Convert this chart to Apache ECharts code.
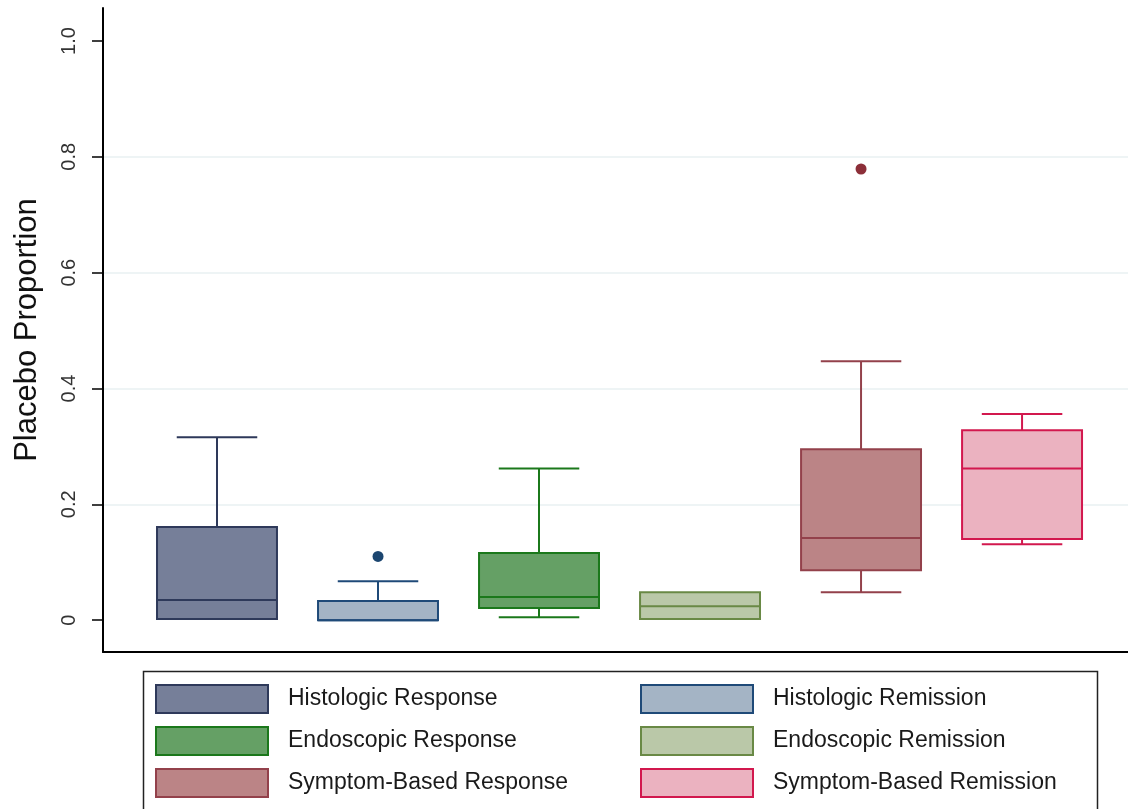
<!DOCTYPE html>
<html>
<head>
<meta charset="utf-8">
<title>Placebo Proportion</title>
<script src="https://cdn.jsdelivr.net/npm/echarts@6/dist/echarts.min.js"></script>
<style>
  html, body {
    margin: 0;
    padding: 0;
    background: #fff;
  }
  #chart {
    width: 1128px;
    height: 809px;
  }
</style>
</head>
<body>
<div id="chart"></div>
<script>
// groups, left to right
var groups = [
  "Histologic Response",
  "Histologic Remission",
  "Endoscopic Response",
  "Endoscopic Remission",
  "Symptom-Based Response",
  "Symptom-Based Remission"
];
// box stats
var lowWhisker  = [0.002, 0.000, 0.005, 0.002, 0.048, 0.131];
var q1          = [0.002, 0.000, 0.021, 0.002, 0.086, 0.140];
var medians     = [0.035, 0.000, 0.040, 0.024, 0.142, 0.262];
var q3          = [0.161, 0.033, 0.116, 0.048, 0.295, 0.328];
var highWhisker = [0.316, 0.067, 0.262, 0.048, 0.447, 0.356];
// outside values: [group index, value]
var outlierGroup = [1, 4];
var outlierValue = [0.110, 0.779];
var yTicks = [0, 0.2, 0.4, 0.6, 0.8, 1.0];

var fills   = ["#767f99", "#a4b4c5", "#65a065", "#bac8a8", "#bb8486", "#ebb2c0"];
var borders = ["#2e395a", "#1f4a78", "#1b781b", "#698945", "#93414b", "#d2184e"];
var dotColors = ["#1c4670", "#8c2f39"];

var BOX_SPAN = 0.745; // box width in x units
var CAP_SPAN = 0.5;

function renderBox(params, api) {
  var x = api.value(0);
  var lo = api.coord([x, api.value(1)]);
  var b1 = api.coord([x, api.value(2)]);
  var md = api.coord([x, api.value(3)]);
  var b3 = api.coord([x, api.value(4)]);
  var hi = api.coord([x, api.value(5)]);
  var boxW = api.size([BOX_SPAN, 0])[0];
  var capW = api.size([CAP_SPAN, 0])[0];
  var st = api.style();
  var line = { stroke: st.stroke, lineWidth: 2 };
  var kids = [];
  if (api.value(5) > api.value(4)) {
    kids.push({ type: "line", shape: { x1: hi[0], y1: hi[1], x2: b3[0], y2: b3[1] }, style: line });
    kids.push({ type: "line", shape: { x1: hi[0] - capW / 2, y1: hi[1], x2: hi[0] + capW / 2, y2: hi[1] }, style: line });
  }
  if (api.value(1) < api.value(2)) {
    kids.push({ type: "line", shape: { x1: lo[0], y1: lo[1], x2: b1[0], y2: b1[1] }, style: line });
    kids.push({ type: "line", shape: { x1: lo[0] - capW / 2, y1: lo[1], x2: lo[0] + capW / 2, y2: lo[1] }, style: line });
  }
  kids.push({
    type: "rect",
    shape: { x: b3[0] - boxW / 2, y: b3[1], width: boxW, height: b1[1] - b3[1] },
    style: { fill: st.fill, stroke: st.stroke, lineWidth: 2 }
  });
  kids.push({ type: "line", shape: { x1: md[0] - boxW / 2, y1: md[1], x2: md[0] + boxW / 2, y2: md[1] }, style: line });
  return { type: "group", children: kids };
}

var series = [];
for (var i = 0; i < groups.length; i++) {
  series.push({
    name: groups[i],
    type: "custom",
    renderItem: renderBox,
    itemStyle: { color: fills[i], borderColor: borders[i], borderWidth: 2 },
    encode: { x: 0, y: [1, 2, 3, 4, 5] },
    data: [[i, lowWhisker[i], q1[i], medians[i], q3[i], highWhisker[i]]],
    z: 3
  });
}
var outData = [];
for (var j = 0; j < outlierGroup.length; j++) {
  outData.push({
    value: [outlierGroup[j], outlierValue[j]],
    itemStyle: { color: dotColors[j], opacity: 1 }
  });
}
series.push({
  name: "outside values",
  type: "scatter",
  symbol: "circle",
  symbolSize: 11,
  itemStyle: { opacity: 1 },
  data: outData,
  z: 4
});

var legendText = { fontFamily: "Liberation Sans", fontSize: 23, color: "#1a1a1a", padding: [0, 0, 0, 15] };

var myChart = echarts.init(document.getElementById("chart"));
var option = {
  backgroundColor: "#ffffff",
  animation: false,
  grid: { left: 103, right: 0, top: 8, bottom: 157, containLabel: false },
  xAxis: {
    type: "value",
    min: -0.708,
    max: 5.658,
    axisLine: { show: true, onZero: false, lineStyle: { color: "#000", width: 2 } },
    axisTick: { show: false },
    axisLabel: { show: false },
    splitLine: { show: false }
  },
  yAxis: {
    type: "value",
    min: -0.055,
    max: 1.057,
    splitNumber: 5,
    name: "Placebo Proportion",
    nameLocation: "middle",
    nameGap: 60,
    nameTextStyle: { fontFamily: "Liberation Sans", fontSize: 31, color: "#111" },
    axisLine: { show: true, onZero: false, lineStyle: { color: "#000", width: 2 } },
    axisTick: { show: true, length: 11, customValues: yTicks, lineStyle: { color: "#000", width: 1.5 } },
    axisLabel: {
      customValues: yTicks,
      rotate: 90,
      margin: 24,
      fontFamily: "Liberation Sans",
      fontSize: 20,
      color: "#333",
      formatter: function (v) { return v === 0 ? "0" : v.toFixed(1); }
    },
    splitLine: { show: true, showMinLine: false, showMaxLine: false, lineStyle: { color: "#e9f0f2", width: 1.5 } }
  },
  legend: [
    {
      data: [groups[0], groups[2], groups[4]],
      orient: "vertical",
      left: 150,
      top: 679,
      height: 200,
      icon: "rect",
      itemWidth: 112,
      itemHeight: 28,
      itemGap: 12,
      selectedMode: false,
      textStyle: legendText
    },
    {
      data: [groups[1], groups[3], groups[5]],
      orient: "vertical",
      left: 635,
      top: 679,
      height: 200,
      icon: "rect",
      itemWidth: 112,
      itemHeight: 28,
      itemGap: 12,
      selectedMode: false,
      textStyle: legendText
    }
  ],
  graphic: [
    {
      type: "rect",
      left: 141,
      top: 669,
      shape: { width: 954, height: 160 },
      style: { fill: "none", stroke: "#222", lineWidth: 1.5 },
      silent: true
    }
  ],
  series: series
};
myChart.setOption(option);
</script>
</body>
</html>
